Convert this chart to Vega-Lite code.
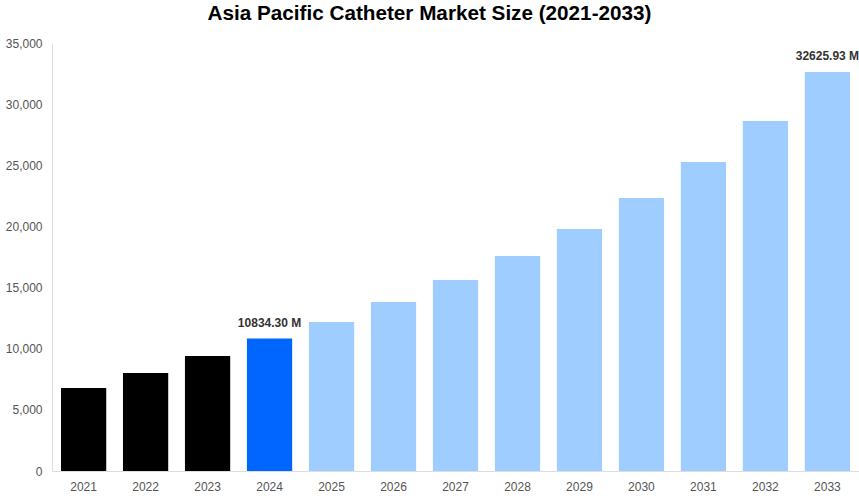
{
  "$schema": "https://vega.github.io/schema/vega-lite/v6.json",
  "autosize": {"type": "none"},
  "width": 807,
  "height": 428,
  "padding": {"left": 52, "top": 43, "right": 0, "bottom": 29},
  "background": "white",
  "title": {
    "text": "Asia Pacific Catheter Market Size (2021-2033)",
    "font": "Liberation Sans",
    "fontSize": 20.7,
    "fontWeight": "bold",
    "color": "#000000",
    "anchor": "middle",
    "dx": -26,
    "offset": 12
  },
  "config": {
    "view": {"stroke": null},
    "font": "Liberation Sans"
  },
  "data": {
    "values": [
      {"year": "2021", "value": 6790, "kind": "hist", "label": ""},
      {"year": "2022", "value": 8010, "kind": "hist", "label": ""},
      {"year": "2023", "value": 9400, "kind": "hist", "label": ""},
      {"year": "2024", "value": 10834.30, "kind": "base", "label": "10834.30 M"},
      {"year": "2025", "value": 12190, "kind": "fore", "label": ""},
      {"year": "2026", "value": 13820, "kind": "fore", "label": ""},
      {"year": "2027", "value": 15620, "kind": "fore", "label": ""},
      {"year": "2028", "value": 17580, "kind": "fore", "label": ""},
      {"year": "2029", "value": 19790, "kind": "fore", "label": ""},
      {"year": "2030", "value": 22330, "kind": "fore", "label": ""},
      {"year": "2031", "value": 25270, "kind": "fore", "label": ""},
      {"year": "2032", "value": 28620, "kind": "fore", "label": ""},
      {"year": "2033", "value": 32625.93, "kind": "fore", "label": "32625.93 M"}
    ]
  },
  "encoding": {
    "x": {
      "field": "year",
      "type": "ordinal",
      "scale": {"paddingInner": 0.27, "paddingOuter": 0.145},
      "axis": {
        "title": null,
        "labelAngle": 0,
        "labelColor": "#555555",
        "labelFontSize": 12,
        "labelPadding": 10,
        "ticks": false,
        "domainColor": "#dddddd"
      }
    },
    "y": {
      "field": "value",
      "type": "quantitative",
      "scale": {"domain": [0, 35000], "nice": false},
      "axis": {
        "title": null,
        "values": [0, 5000, 10000, 15000, 20000, 25000, 30000, 35000],
        "format": ",d",
        "grid": false,
        "ticks": false,
        "labelColor": "#555555",
        "labelFontSize": 12,
        "labelPadding": 10,
        "domainColor": "#dddddd"
      }
    }
  },
  "layer": [
    {
      "mark": {"type": "bar"},
      "encoding": {
        "color": {
          "field": "kind",
          "type": "nominal",
          "scale": {"domain": ["hist", "base", "fore"], "range": ["#000000", "#0066ff", "#a0cdff"]},
          "legend": null
        }
      }
    },
    {
      "mark": {"type": "text", "dy": -16, "fontWeight": "bold", "fontSize": 12, "color": "#333333"},
      "encoding": {
        "text": {"field": "label", "type": "nominal"}
      }
    }
  ]
}
